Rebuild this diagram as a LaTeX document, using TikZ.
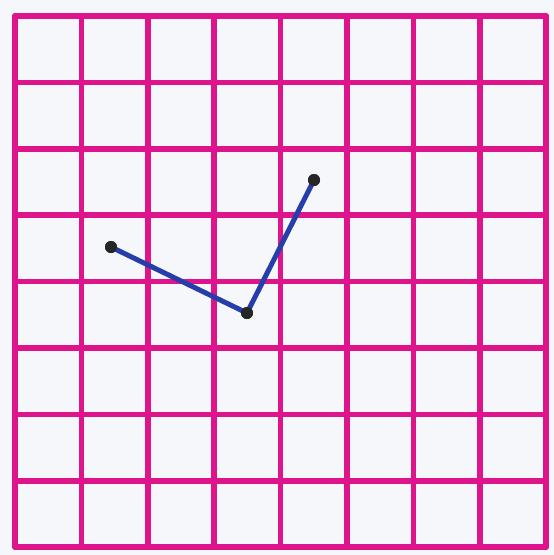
\documentclass[tikz,border=0pt]{standalone}
\definecolor{gridmag}{RGB}{222,20,140}
\definecolor{penblue}{RGB}{38,62,170}
\definecolor{paper}{RGB}{245,247,251}
\tikzset{
  gridline/.style={draw=gridmag, line width=5.5pt, line cap=round},
  dotnode/.style={circle, fill=black!85, inner sep=0pt, minimum size=12pt},
  segment/.style={draw=penblue, line width=5pt}
}
\begin{document}
\begin{tikzpicture}[x=1pt,y=-1pt]
\fill[paper] (0,0) rectangle (554,555);
\useasboundingbox (0,0) rectangle (554,555);
\foreach \i in {0,...,8}{
  \pgfmathsetmacro{\p}{15+66.4*\i}
  \pgfmathsetmacro{\q}{16+66.4*\i}
  \draw[gridline] (\p,16) -- (\p,547);
  \draw[gridline] (15,\q) -- (546,\q);
}
\node[dotnode] (a) at (111,247) {};
\node[dotnode] (b) at (247,313) {};
\node[dotnode] (c) at (314,180) {};
\draw[segment] (a.center) -- (b.center) -- (c.center);
\node[dotnode] at (a) {};
\node[dotnode] at (b) {};
\node[dotnode] at (c) {};
\end{tikzpicture}
\end{document}
